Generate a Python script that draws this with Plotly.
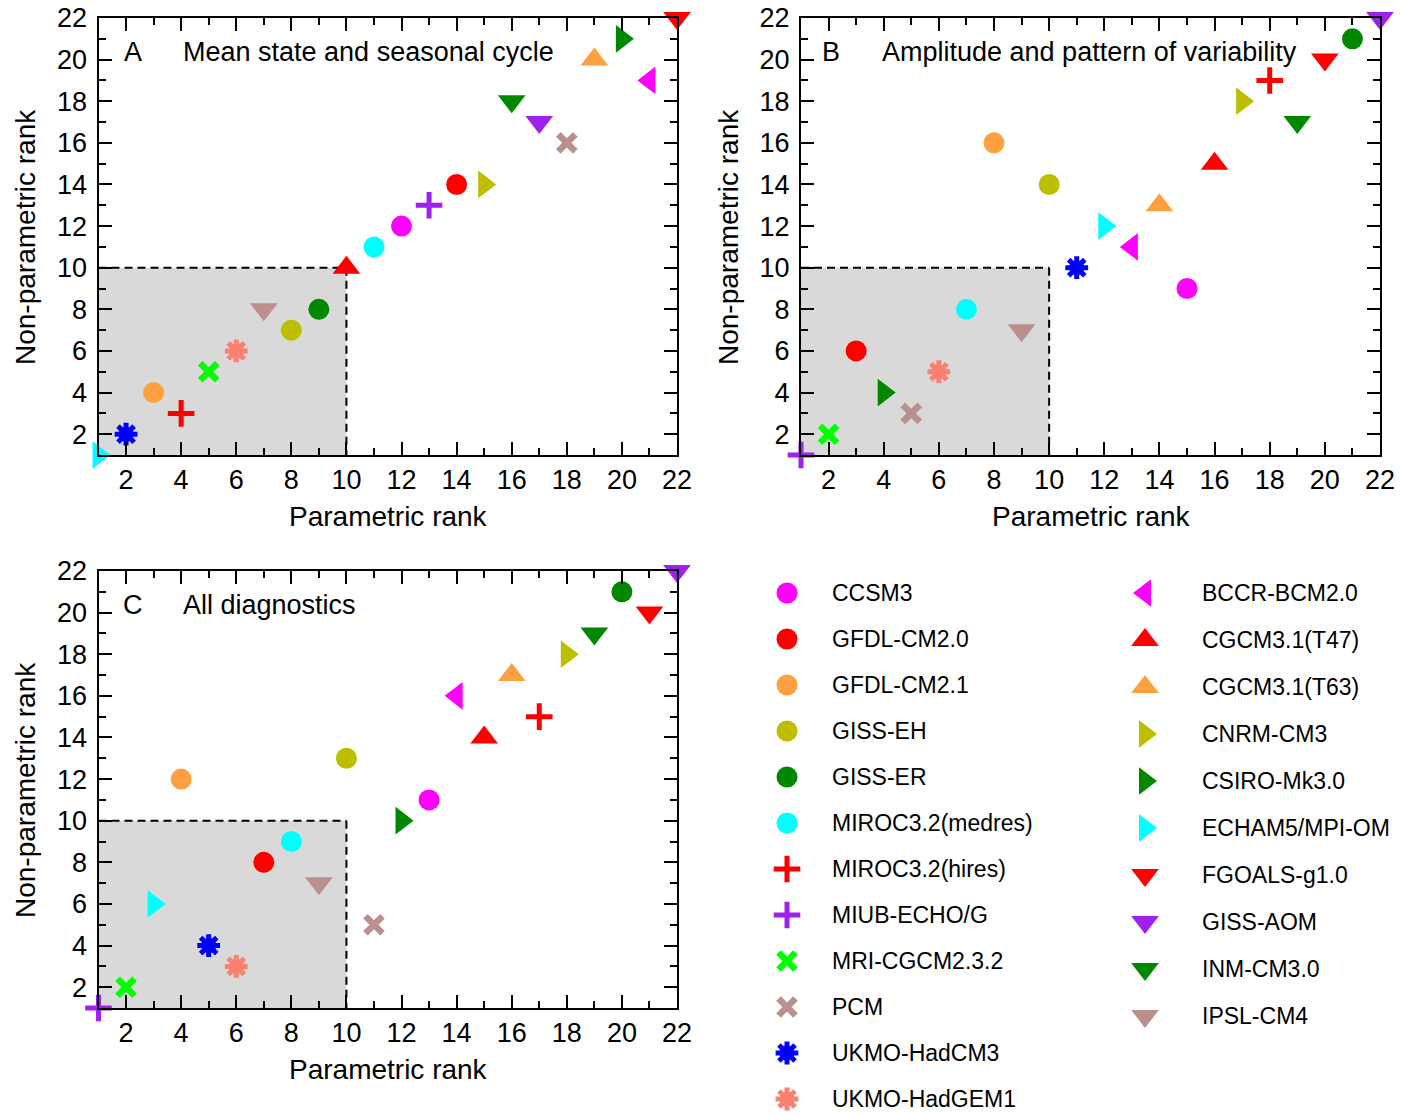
import plotly.graph_objects as go

W, H = 1401, 1114

models = ["CCSM3", "GFDL-CM2.0", "GFDL-CM2.1", "GISS-EH", "GISS-ER",
          "MIROC3.2(medres)", "MIROC3.2(hires)", "MIUB-ECHO/G", "MRI-CGCM2.3.2",
          "PCM", "UKMO-HadCM3", "UKMO-HadGEM1",
          "BCCR-BCM2.0", "CGCM3.1(T47)", "CGCM3.1(T63)", "CNRM-CM3", "CSIRO-Mk3.0",
          "ECHAM5/MPI-OM", "FGOALS-g1.0", "GISS-AOM", "INM-CM3.0", "IPSL-CM4"]

kinds = ["circle", "circle", "circle", "circle", "circle", "circle",
         "plus", "plus", "x", "x", "star", "star",
         "tri-left", "tri-up", "tri-up", "tri-right", "tri-right", "tri-right",
         "tri-down", "tri-down", "tri-down", "tri-down"]

colors = ["#FF00FF", "#FF0000", "#FFA040", "#BEBE00", "#008800", "#00FFFF",
          "#FF0000", "#A020F0", "#00FF00", "#BC8F8F", "#0000FF", "#FA8072",
          "#FF00FF", "#FF0000", "#FFA040", "#BEBE00", "#008800", "#00FFFF",
          "#FF0000", "#A020F0", "#008800", "#BC8F8F"]

# Panel A: Mean state and seasonal cycle
a_param = [12, 14, 3, 8, 9, 11, 4, 13, 5, 18, 2, 6, 21, 10, 19, 15, 20, 1, 22, 17, 16, 7]
a_nonpar = [12, 14, 4, 7, 8, 11, 3, 13, 5, 16, 2, 6, 19, 10, 20, 14, 21, 1, 22, 17, 18, 8]
# Panel B: Amplitude and pattern of variability
b_param = [15, 3, 8, 10, 21, 7, 18, 1, 2, 5, 11, 6, 13, 16, 14, 17, 4, 12, 20, 22, 19, 9]
b_nonpar = [9, 6, 16, 14, 21, 8, 19, 1, 2, 3, 10, 5, 11, 15, 13, 18, 4, 12, 20, 22, 17, 7]
# Panel C: All diagnostics
c_param = [13, 7, 4, 10, 20, 8, 17, 1, 2, 11, 5, 6, 14, 15, 16, 18, 12, 3, 21, 22, 19, 9]
c_nonpar = [11, 8, 12, 13, 21, 9, 15, 1, 2, 5, 4, 3, 16, 14, 17, 18, 10, 6, 20, 22, 19, 7]

panel_letters = ["A", "B", "C"]
panel_titles = ["Mean state and seasonal cycle", "Amplitude and pattern of variability", "All diagnostics"]
tick_values = [2, 4, 6, 8, 10, 12, 14, 16, 18, 20, 22]
minor_values = [3, 5, 7, 9, 11, 13, 15, 17, 19, 21]
x_title = "Parametric rank"
y_title = "Non-parametric rank"

FONT = "Liberation Sans, Arial, Helvetica, sans-serif"

sym_map = {"circle": "circle", "plus": "cross-thin-open", "x": "x-thin-open",
           "star": "asterisk-open", "tri-left": "triangle-left", "tri-up": "triangle-up",
           "tri-right": "triangle-right", "tri-down": "triangle-down"}
size_map = {"circle": 21, "plus": 19, "x": 17, "star": 19, "tri-left": 24, "tri-up": 24,
            "tri-right": 24, "tri-down": 24}
lw_map = {"circle": 0, "plus": 5, "x": 6.5, "star": 5, "tri-left": 0, "tri-up": 0,
          "tri-right": 0, "tri-down": 0}

symbols = [sym_map[k] for k in kinds]
sizes = [size_map[k] for k in kinds]
lws = [lw_map[k] for k in kinds]

fig = go.Figure()

panels = [(a_param, a_nonpar, "x", "y"), (b_param, b_nonpar, "x2", "y2"), (c_param, c_nonpar, "x3", "y3")]


def add_points(xs, ys, xa, ya):
    idxs = list(range(len(models)))
    # underlay disc for the asterisk markers
    si = [i for i in idxs if kinds[i] == "star"]
    fig.add_trace(go.Scatter(
        x=[xs[i] for i in si], y=[ys[i] for i in si], xaxis=xa, yaxis=ya,
        mode="markers", cliponaxis=False, showlegend=False, hoverinfo="skip",
        marker=dict(symbol="circle", size=15, opacity=1, color=[colors[i] for i in si],
                    line=dict(width=0))))
    fig.add_trace(go.Scatter(
        x=[xs[i] for i in idxs], y=[ys[i] for i in idxs], xaxis=xa, yaxis=ya,
        mode="markers", cliponaxis=False, showlegend=False,
        text=[models[i] for i in idxs],
        marker=dict(symbol=[symbols[i] for i in idxs], size=[sizes[i] for i in idxs],
                    opacity=1, color=[colors[i] for i in idxs],
                    line=dict(width=[lws[i] for i in idxs], color=[colors[i] for i in idxs]))))


for xs, ys, xa, ya in panels:
    add_points(xs, ys, xa, ya)

# Legend drawn in a pixel-unit axis
n1 = 12
leg_x, leg_y = [], []
for i in range(len(models)):
    if i < n1:
        leg_x.append(787)
        leg_y.append(593 + 46.0 * i)
    else:
        leg_x.append(1145)
        leg_y.append(593 + 47.0 * (i - n1))
add_points(leg_x, leg_y, "x4", "y4")

for i, m in enumerate(models):
    fig.add_annotation(x=leg_x[i] + (43 if i < n1 else 55), y=leg_y[i], xref="x4", yref="y4",
                       text=m, showarrow=False, xanchor="left", yanchor="middle",
                       font=dict(family=FONT, size=23, color="black"))

# Axes
xdom_left = [98.5 / W, 677 / W]
xdom_right = [801 / W, 1380 / W]
ydom_top = [1 - 455 / H, 1 - 18 / H]
ydom_bot = [1 - 1008 / H, 1 - 571 / H]

axis_common = dict(range=[1, 22], tickvals=tick_values, ticks="inside", ticklen=13, tickwidth=2,
                   tickcolor="black", showline=True, linewidth=2, linecolor="black", mirror="ticks",
                   showgrid=False, zeroline=False, automargin=False,
                   minor=dict(tickvals=minor_values, ticks="inside",
                              ticklen=7, tickwidth=2, tickcolor="black", showgrid=False),
                   tickfont=dict(family=FONT, size=27, color="black"), fixedrange=True)

fig.update_layout(
    template="none",
    width=W, height=H, margin=dict(l=0, r=0, t=0, b=0, autoexpand=False),
    paper_bgcolor="white", plot_bgcolor="rgba(0,0,0,0)", showlegend=False,
    xaxis=dict(domain=xdom_left, anchor="y", **axis_common),
    yaxis=dict(domain=ydom_top, anchor="x", ticklabelstandoff=4, **axis_common),
    xaxis2=dict(domain=xdom_right, anchor="y2", **axis_common),
    yaxis2=dict(domain=ydom_top, anchor="x2", ticklabelstandoff=4, **axis_common),
    xaxis3=dict(domain=xdom_left, anchor="y3", **axis_common),
    yaxis3=dict(domain=ydom_bot, anchor="x3", ticklabelstandoff=4, **axis_common),
    xaxis4=dict(domain=[740 / W, 1], range=[740, W], visible=False, anchor="y4",
                fixedrange=True, automargin=False),
    yaxis4=dict(domain=[0, 1 - 560 / H], range=[H, 560], visible=False, anchor="x4",
                fixedrange=True, automargin=False),
)

# Shaded top-10 region and text per panel
for k, (xs, ys, xa, ya) in enumerate(panels):
    fig.add_shape(type="rect", xref=xa, yref=ya, x0=1, y0=1, x1=10, y1=10,
                  fillcolor="#D9D9D9", line=dict(width=0), layer="below")
    fig.add_shape(type="line", xref=xa, yref=ya, x0=1, y0=10, x1=10, y1=10,
                  line=dict(color="black", width=2, dash="8px,5px"), layer="below")
    fig.add_shape(type="line", xref=xa, yref=ya, x0=10, y0=10, x1=10, y1=1,
                  line=dict(color="black", width=2, dash="8px,5px"), layer="below")
    fig.add_annotation(x=2.25 if k != 1 else 2.1, y=20.35, xref=xa, yref=ya, text=panel_letters[k],
                       showarrow=False, xanchor="center", yanchor="middle",
                       font=dict(family=FONT, size=27, color="black"))
    fig.add_annotation(x=4.0 if k != 1 else 3.87, y=20.35, xref=xa, yref=ya, text=panel_titles[k],
                       showarrow=False, xanchor="left", yanchor="middle",
                       font=dict(family=FONT, size=27, color="black"))

# Axis titles
for cx, cy in [(388, 516), (1091, 516), (388, 1069)]:
    fig.add_annotation(x=cx / W, y=1 - cy / H, xref="paper", yref="paper", text=x_title,
                       showarrow=False, xanchor="center", yanchor="middle",
                       font=dict(family=FONT, size=28, color="black"))
for cx, cy in [(25, 237), (728, 237), (25, 790)]:
    fig.add_annotation(x=cx / W, y=1 - cy / H, xref="paper", yref="paper", text=y_title,
                       showarrow=False, xanchor="center", yanchor="middle", textangle=-90,
                       font=dict(family=FONT, size=28, color="black"))

fig.write_html("out.html", config={"displayModeBar": False},
               post_script="document.body.style.margin='0';document.body.style.overflow='hidden';")
